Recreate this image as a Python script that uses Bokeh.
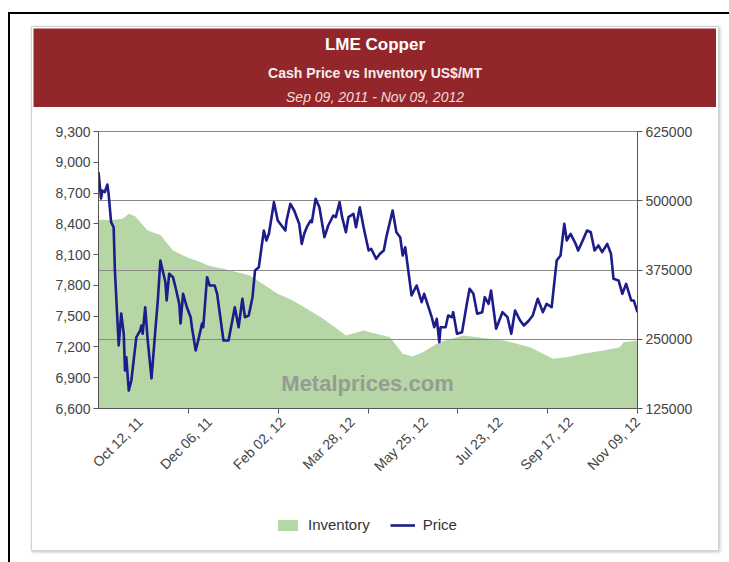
import math
import pandas as pd
from bokeh.plotting import figure
from bokeh.layouts import column
from bokeh.core.properties import value
from bokeh.models import (Range1d, LinearAxis, SingleIntervalTicker, FixedTicker,
                          NumeralTickFormatter, BasicTickFormatter, Grid, Label,
                          Legend, LegendItem)
from bokeh.embed import file_html
from bokeh.resources import INLINE

# ---------------- data ----------------
price_dates = [
    "2011-09-09", "2011-09-11", "2011-09-12", "2011-09-14", "2011-09-16", "2011-09-17",
    "2011-09-19", "2011-09-21", "2011-09-22", "2011-09-25", "2011-09-27", "2011-09-29",
    "2011-09-30", "2011-10-01", "2011-10-03", "2011-10-05", "2011-10-09", "2011-10-12",
    "2011-10-13", "2011-10-14", "2011-10-16", "2011-10-18", "2011-10-21", "2011-10-24",
    "2011-10-26", "2011-10-28", "2011-11-01", "2011-11-02", "2011-11-04", "2011-11-07",
    "2011-11-09", "2011-11-12", "2011-11-13", "2011-11-15", "2011-11-18", "2011-11-21",
    "2011-11-22", "2011-11-25", "2011-11-27", "2011-11-30", "2011-12-01", "2011-12-04",
    "2011-12-06", "2011-12-10", "2011-12-12", "2011-12-17", "2011-12-21", "2011-12-26",
    "2011-12-29", "2012-01-01", "2012-01-03", "2012-01-06", "2012-01-09", "2012-01-11",
    "2012-01-14", "2012-01-16", "2012-01-18", "2012-01-20", "2012-01-22", "2012-01-26",
    "2012-01-29", "2012-02-02", "2012-02-04", "2012-02-05", "2012-02-08", "2012-02-11",
    "2012-02-15", "2012-02-17", "2012-02-19", "2012-02-21", "2012-02-24", "2012-02-25",
    "2012-02-28", "2012-03-02", "2012-03-06", "2012-03-09", "2012-03-13", "2012-03-15",
    "2012-03-18", "2012-03-20", "2012-03-23", "2012-03-25", "2012-03-29", "2012-03-31",
    "2012-04-03", "2012-04-06", "2012-04-10", "2012-04-12", "2012-04-16", "2012-04-19",
    "2012-04-22", "2012-04-24", "2012-04-29", "2012-05-02", "2012-05-05", "2012-05-07",
    "2012-05-09", "2012-05-14", "2012-05-18", "2012-05-22", "2012-05-24", "2012-05-30",
    "2012-06-01", "2012-06-03", "2012-06-05", "2012-06-06", "2012-06-10", "2012-06-12",
    "2012-06-15", "2012-06-16", "2012-06-19", "2012-06-23", "2012-06-27", "2012-06-29",
    "2012-07-02", "2012-07-05", "2012-07-09", "2012-07-11", "2012-07-14", "2012-07-16",
    "2012-07-20", "2012-07-25", "2012-07-29", "2012-08-01", "2012-08-04", "2012-08-08",
    "2012-08-11", "2012-08-15", "2012-08-18", "2012-08-22", "2012-08-26", "2012-08-29",
    "2012-09-02", "2012-09-06", "2012-09-09", "2012-09-12", "2012-09-14", "2012-09-17",
    "2012-09-21", "2012-09-23", "2012-09-26", "2012-09-30", "2012-10-03", "2012-10-06",
    "2012-10-09", "2012-10-12", "2012-10-16", "2012-10-19", "2012-10-21", "2012-10-25",
    "2012-10-28", "2012-10-31", "2012-11-04", "2012-11-06", "2012-11-09",
]
price_values = [
    8903, 8647, 8725, 8710, 8783, 8693,
    8416, 8367, 7945, 7214, 7526, 7328,
    6970, 7100, 6775, 6873, 7295, 7360,
    7409, 7328, 7587, 7263, 6893, 7360,
    7653, 8043, 7831, 7653, 7913, 7880,
    7782, 7620, 7429, 7718, 7587, 7490,
    7392, 7165, 7263, 7429, 7392, 7880,
    7799, 7799, 7718, 7263, 7263, 7587,
    7392, 7670, 7490, 7506, 7685, 7945,
    7977, 8157, 8335, 8238, 8303, 8611,
    8433, 8367, 8335, 8433, 8595, 8530,
    8400, 8205, 8303, 8367, 8432, 8416,
    8644, 8562, 8270, 8384, 8481, 8465,
    8611, 8465, 8318, 8465, 8497, 8367,
    8562, 8367, 8140, 8157, 8059, 8108,
    8140, 8270, 8530, 8318, 8270, 8091,
    8172, 7702, 7799, 7636, 7718, 7490,
    7392, 7474, 7246, 7392, 7392, 7506,
    7490, 7539, 7328, 7344, 7636, 7767,
    7718, 7523, 7539, 7685, 7620, 7750,
    7377, 7539, 7490, 7328, 7555, 7458,
    7409, 7458, 7506, 7670, 7539, 7620,
    7587, 8043, 8091, 8400, 8238, 8303,
    8205, 8140, 8221, 8335, 8318, 8140,
    8189, 8124, 8205, 8108, 7864, 7848,
    7718, 7815, 7653, 7653, 7539,
]

inventory_dates = [
    "2011-09-09", "2011-09-19", "2011-09-28", "2011-10-03", "2011-10-08", "2011-10-18",
    "2011-10-28", "2011-11-07", "2011-11-18", "2011-11-29", "2011-12-06", "2011-12-17",
    "2012-01-07", "2012-01-29", "2012-02-08", "2012-02-19", "2012-03-05", "2012-03-14",
    "2012-03-23", "2012-04-06", "2012-04-11", "2012-04-27", "2012-05-07", "2012-05-15",
    "2012-05-23", "2012-06-05", "2012-06-24", "2012-07-26", "2012-08-16", "2012-09-03",
    "2012-09-15", "2012-09-27", "2012-10-13", "2012-10-26", "2012-10-29", "2012-11-09",
]
inventory_values = [
    465600, 465000, 467400, 476400, 472000, 446300,
    438000, 410200, 398000, 389100, 382000, 377200,
    365100, 332000, 322000, 307900, 286900, 272000,
    256800, 265800, 262700, 253700, 223800, 219000,
    226600, 244700, 256800, 247800, 235700, 214700,
    218000, 223800, 229700, 235700, 244700, 247800,
]

x_tick_dates = ["2011-10-12", "2011-12-06", "2012-02-02", "2012-03-28",
                "2012-05-25", "2012-07-23", "2012-09-17", "2012-11-09"]
x_tick_labels = ["Oct 12, 11", "Dec 06, 11", "Feb 02, 12", "Mar 28, 12",
                 "May 25, 12", "Jul 23, 12", "Sep 17, 12", "Nov 09, 12"]

title = "LME Copper"
subtitle = "Cash Price vs Inventory US$/MT"
period = "Sep 09, 2011 - Nov 09, 2012"
watermark = "Metalprices.com"
series_names = ["Inventory", "Price"]

price_range = (6600, 9300, 300)
inventory_range = (125000, 625000, 125000)

# ---------------- style / layout ----------------
FONT = "Liberation Sans"
RED = "#93262b"
GREEN = "#b6d6a6"
NAVY = "#1c1c8a"
AXIS = "#555555"
TXT = "#444444"
GRID = "#8a8a8a"

BOX_W = 686            # inner width of the chart box
BANNER_W, BANNER_H = 683, 79
LEG_H = 50


def ms(d):
    return pd.Timestamp(d).timestamp() * 1000.0


def bare(width, height, xr, yr, bg):
    f = figure(width=width, height=height, output_backend="svg", toolbar_location=None,
               x_axis_location=None, y_axis_location=None, x_range=xr, y_range=yr,
               min_border=0, frame_align=False)
    f.outline_line_color = None
    f.background_fill_color = bg
    f.border_fill_color = bg
    f.xgrid.visible = False
    f.ygrid.visible = False
    return f


# ---- title banner ----
banner = bare(BANNER_W, BANNER_H, Range1d(0, BANNER_W), Range1d(BANNER_H, 0), RED)
for txt, yy, size, style, col in [
    (title, 16, "17px", "bold", "#ffffff"),
    (subtitle, 44, "14px", "bold", "#f7eded"),
    (period, 68, "14px", "italic", "#f2dcdc"),
]:
    banner.text(x=[BANNER_W / 2], y=[yy], text=[txt], text_align="center",
                text_baseline="middle", text_font=value(FONT), text_font_size=value(size),
                text_font_style=style, text_color=col)
banner.margin = (1, 0, 0, 1)

# ---- main chart ----
x0, x1 = ms(price_dates[0]), ms(price_dates[-1])
p = figure(frame_width=539, frame_height=277, output_backend="svg", toolbar_location=None,
           x_axis_type="datetime", frame_align=False,
           x_range=Range1d(x0, x1), y_range=Range1d(price_range[0], price_range[1]),
           min_border_left=66, min_border_right=81, min_border_top=24, min_border_bottom=92)
p.outline_line_color = GRID
p.background_fill_color = "white"
p.border_fill_color = "white"
p.xgrid.visible = False
p.ygrid.visible = False
p.extra_y_ranges = {"inv": Range1d(inventory_range[0], inventory_range[1])}

inv_x = pd.to_datetime(inventory_dates)
inv_base = [inventory_range[0]] * len(inventory_values)
price_x = pd.to_datetime(price_dates)
area = p.varea(x=inv_x, y1=inv_base, y2=inventory_values,
               y_range_name="inv", fill_color=GREEN, fill_alpha=1.0, level="image")
line = p.line(x=price_x, y=price_values, line_color=NAVY,
              line_width=2.6, line_join="round")

yl = p.yaxis[0]
yl.ticker = SingleIntervalTicker(interval=price_range[2], num_minor_ticks=0)
yl.formatter = NumeralTickFormatter(format="0,0")

yr = LinearAxis(y_range_name="inv",
                ticker=SingleIntervalTicker(interval=inventory_range[2], num_minor_ticks=0),
                formatter=BasicTickFormatter(use_scientific=False))
p.add_layout(yr, "right")

xa = p.xaxis[0]
tick_ms = [ms(d) for d in x_tick_dates]
minor = [x0 + k * (x1 - x0) / 6.0 for k in range(1, 7)]
xa.ticker = FixedTicker(ticks=tick_ms, minor_ticks=minor)
xa.major_label_overrides = {t: lab for t, lab in zip(tick_ms, x_tick_labels)}
xa.major_label_orientation = math.pi / 4
xa.major_tick_out = 0
xa.major_tick_in = 0
xa.minor_tick_out = 5
xa.minor_tick_in = 0
xa.minor_tick_line_color = AXIS
xa.major_label_standoff = 6

for ax in (yl, yr, xa):
    ax.axis_line_color = AXIS
    ax.axis_line_width = 1
    ax.major_label_text_font = FONT
    ax.major_label_text_font_size = "14px"
    ax.major_label_text_color = TXT
for ax in (yl, yr):
    ax.major_tick_line_color = AXIS
    ax.major_tick_out = 5
    ax.major_tick_in = 0
    ax.minor_tick_line_color = None
    ax.major_label_standoff = 3

p.add_layout(Grid(dimension=1, ticker=yr.ticker, y_range_name="inv",
                  grid_line_color=GRID, grid_line_width=1))

p.add_layout(Label(x=269, y=25, x_units="screen", y_units="screen", text=watermark,
                   text_align="center", text_baseline="middle", text_font=FONT,
                   text_font_size="22px", text_font_style="bold",
                   text_color="#8c8c8c", text_alpha=0.8))

# ---- legend strip (its renderers hold the series but lie outside its view) ----
lf = bare(BOX_W, LEG_H, Range1d(0, 1), Range1d(0, 1), "white")
leg_area = lf.varea(x=inv_x, y1=inv_base, y2=inventory_values,
                    fill_color=GREEN, fill_alpha=1.0)
leg_line = lf.line(x=price_x, y=price_values, line_color=NAVY, line_width=2.6)
legend = Legend(items=[LegendItem(label=series_names[0], renderers=[leg_area]),
                       LegendItem(label=series_names[1], renderers=[leg_line])],
                orientation="horizontal", location=(243, 17),
                border_line_color=None, background_fill_alpha=0,
                label_text_font=FONT, label_text_font_size="15px",
                label_text_color="#333333", label_height=14,
                glyph_width=25, glyph_height=14, spacing=20, label_standoff=8,
                margin=0, padding=0)
lf.add_layout(legend, "center")

box = column(banner, p, lf, spacing=0,
             styles={"border": "1px solid #d2d2d2",
                     "box-shadow": "1px 1px 3px rgba(0,0,0,0.25)",
                     "background-color": "white"})
box.margin = (12, 10, 16, 21)

root = column(box, spacing=0,
              styles={"border-top": "2px solid #000000", "border-left": "2px solid #000000"})
root.margin = (12, 0, 0, 8)

open("out.html", "w").write(file_html(root, INLINE))
